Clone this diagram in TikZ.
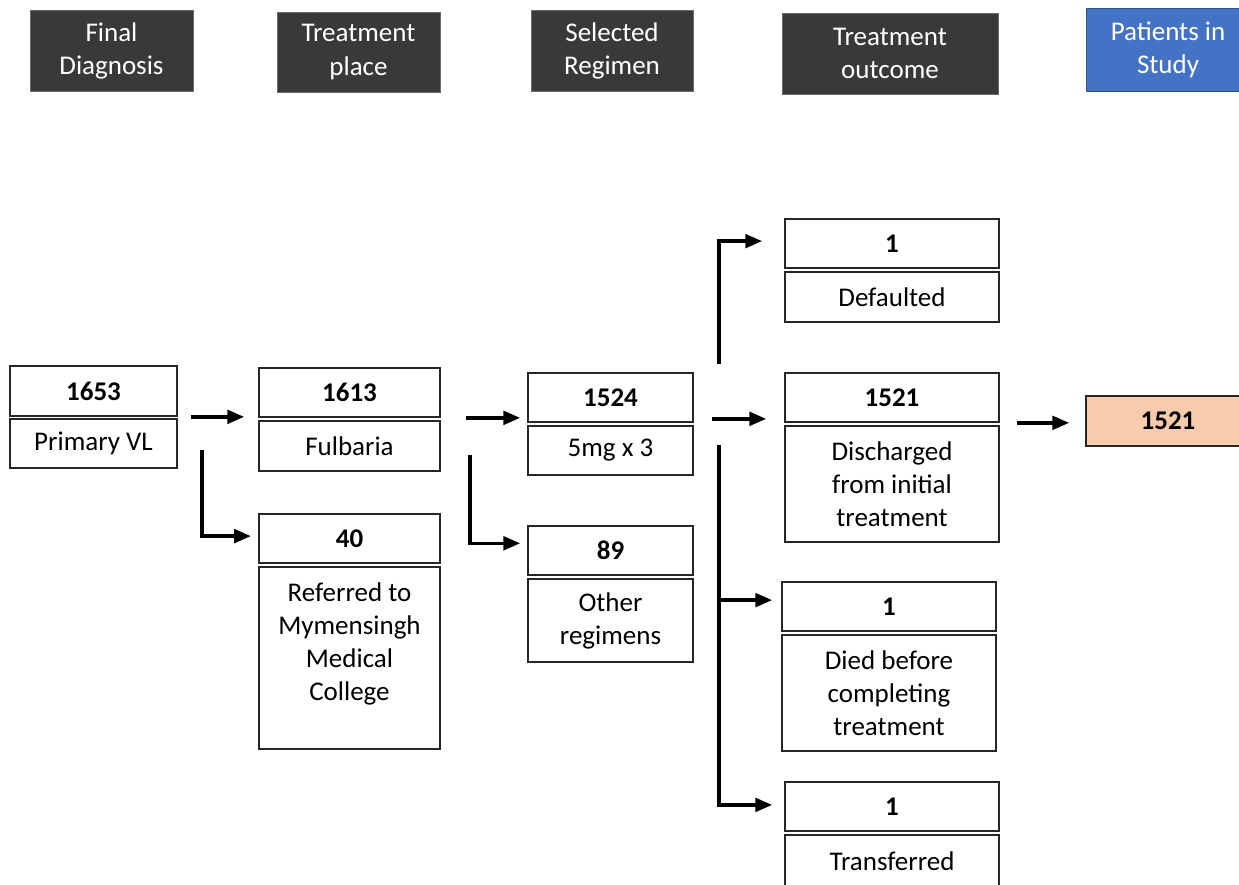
\documentclass[tikz,border=0pt]{standalone}
\usepackage{fontspec}
\setmainfont{Carlito}
\usetikzlibrary{arrows.meta}
\usetikzlibrary{calc}
\tikzset{>={Triangle[length=0.42cm,width=0.34cm]}}
\definecolor{headgray}{RGB}{59,56,56}
\definecolor{headblue}{RGB}{68,114,196}
\definecolor{edgeblue}{RGB}{47,82,143}
\definecolor{studypeach}{RGB}{248,203,173}
\tikzstyle{headbox}=[fill=headgray,draw=headgray!75!white,line width=0.5pt,text=white,align=center,inner sep=0pt,font=\fontsize{19.2}{23.5}\selectfont]
\tikzstyle{numbox}=[draw=black!85,line width=1.2pt,inner sep=0pt,font=\bfseries\fontsize{19.2}{23.5}\selectfont]
\tikzstyle{textbox}=[draw=black!85,line width=1.2pt,inner sep=0pt,align=center,font=\fontsize{19.2}{23.5}\selectfont]
\tikzstyle{arrowline}=[draw=black,line width=0.085cm]

\begin{document}
\begin{tikzpicture}
    \useasboundingbox (0,0) rectangle (30.975,-22.1);
    \clip (0,0) rectangle (30.975,-22.1);

    % column headings
    \node[headbox,minimum width=4.075cm,minimum height=2.025cm] (hDiag) at (2.7875,-1.2625) {Final\\Diagnosis};
    \node[headbox,minimum width=4.075cm,minimum height=2.0cm] (hPlace) at (8.9625,-1.3) {Treatment\\place};
    \node[headbox,minimum width=4.05cm,minimum height=2.025cm] (hRegimen) at (15.3,-1.2625) {Selected\\Regimen};
    \node[headbox,minimum width=5.4cm,minimum height=2.025cm] (hOutcome) at (22.25,-1.3375) {Treatment\\outcome};
    \node[headbox,fill=headblue,draw=edgeblue,minimum width=4.1cm,minimum height=2.075cm] (hStudy) at (29.2,-1.2375) {Patients in\\Study};

    % final diagnosis
    \node[numbox,minimum width=4.175cm,minimum height=1.25cm] (n1653) at (2.3375,-9.775) {1653};
    \node[textbox,minimum width=4.175cm,minimum height=1.225cm] (t1653) at (2.3375,-11.0875) {Primary VL};

    % treatment place
    \node[numbox,minimum width=4.525cm,minimum height=1.225cm] (n1613) at (8.7375,-9.8125) {1613};
    \node[textbox,minimum width=4.525cm,minimum height=1.25cm] (t1613) at (8.7375,-11.15) {Fulbaria};
    \node[numbox,minimum width=4.525cm,minimum height=1.225cm] (n40) at (8.7375,-13.4625) {40};
    \node[textbox,minimum width=4.525cm,minimum height=4.55cm] (t40) at (8.7375,-16.45) {Referred to\\Mymensingh\\Medical\\College\\\mbox{}};

    % selected regimen
    \node[numbox,minimum width=4.125cm,minimum height=1.225cm] (n1524) at (15.2625,-9.9375) {1524};
    \node[textbox,minimum width=4.125cm,minimum height=1.225cm] (t1524) at (15.2625,-11.2625) {5mg x 3};
    \node[numbox,minimum width=4.125cm,minimum height=1.225cm] (n89) at (15.2625,-13.7625) {89};
    \node[textbox,minimum width=4.125cm,minimum height=2.075cm] (t89) at (15.2625,-15.5125) {Other\\regimens};

    % treatment outcome
    \node[numbox,minimum width=5.35cm,minimum height=1.225cm] (nDef) at (22.3,-6.0875) {1};
    \node[textbox,minimum width=5.35cm,minimum height=1.25cm] (tDef) at (22.3,-7.425) {Defaulted};
    \node[numbox,minimum width=5.35cm,minimum height=1.225cm] (n1521) at (22.3,-9.9375) {1521};
    \node[textbox,minimum width=5.35cm,minimum height=2.9cm] (tDis) at (22.3,-12.1) {Discharged\\from initial\\treatment};
    \node[numbox,minimum width=5.35cm,minimum height=1.225cm] (nDied) at (22.225,-15.1625) {1};
    \node[textbox,minimum width=5.35cm,minimum height=2.9cm] (tDied) at (22.225,-17.325) {Died before\\completing\\treatment};
    \node[numbox,minimum width=5.35cm,minimum height=1.225cm] (nTrans) at (22.3,-20.1625) {1};
    \node[textbox,minimum width=5.35cm,minimum height=1.3cm] (tTrans) at (22.3,-21.525) {Transferred};

    % patients in study
    \node[numbox,fill=studypeach,minimum width=4.1cm,minimum height=1.25cm] (nStudy) at (29.2,-10.525) {1521};

    % arrows
    \draw[arrowline,->,shorten <=0.33cm,shorten >=0.35cm] (n1653.south east) -- (n1653.south east -| n1613.west);
    \draw[arrowline,->,shorten >=0.18cm] ([xshift=0.6cm,yshift=-0.15cm]t1653.east) |- ([yshift=0.06cm]n40.west);
    \draw[arrowline,->,shorten <=0.625cm,shorten >=0.175cm] (n1613.south east) -- (n1613.south east -| n1524.west);
    \draw[arrowline,->,shorten >=0.175cm] ([xshift=0.725cm,yshift=-0.225cm]t1613.east) |- ([yshift=0.18cm]n89.west);
    \draw[arrowline,->,shorten <=0.45cm,shorten >=0.45cm] ([yshift=0.1cm]n1524.south east) -- ([yshift=0.1cm]n1524.south east -| n1521.west);
    \draw[arrowline,->,shorten >=0.55cm] ([xshift=0.625cm,yshift=0.2cm]n1524.north east) |- ([yshift=0.06cm]nDef.west);
    \coordinate (trunk) at ([xshift=0.625cm,yshift=0.14cm]t1524.east);
    \coordinate (diedIn) at ([yshift=0.16cm]nDied.west);
    \draw[arrowline,->,shorten >=0.3cm] (trunk) |- ([yshift=0.04cm]nTrans.west);
    \draw[arrowline,->,shorten >=0.225cm] (trunk |- diedIn) -- (diedIn);
    \draw[arrowline,->,shorten <=0.425cm,shorten >=0.4cm] (n1521.south east) -- (n1521.south east -| nStudy.west);
\end{tikzpicture}
\end{document}
